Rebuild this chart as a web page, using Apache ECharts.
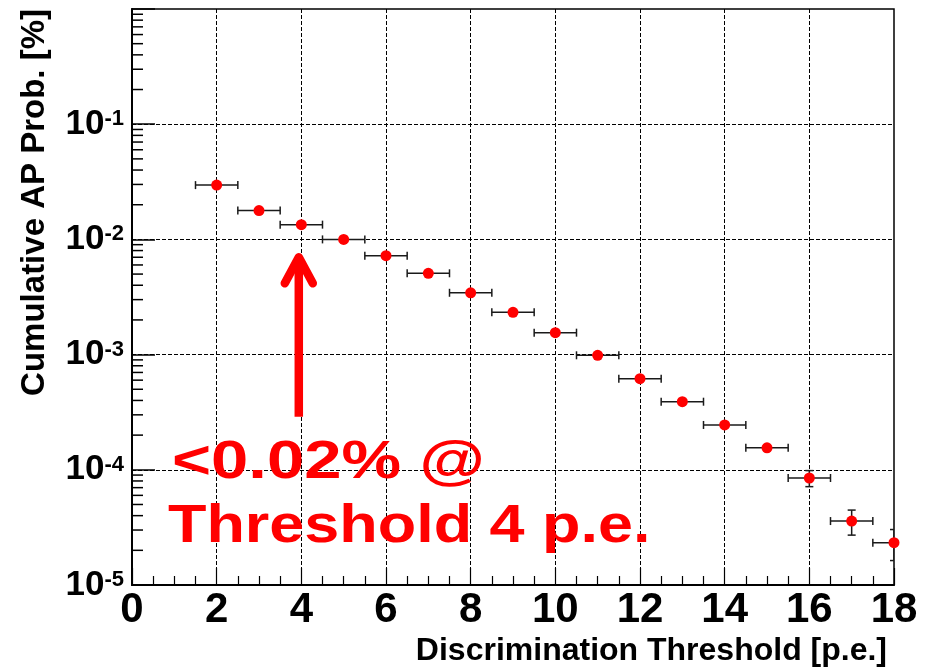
<!DOCTYPE html>
<html>
<head>
<meta charset="utf-8">
<title>Cumulative AP probability vs discrimination threshold</title>
<script src="https://cdn.jsdelivr.net/npm/echarts@6/dist/echarts.min.js"></script>
<style>
  html, body { margin: 0; padding: 0; background: #ffffff; }
  #chart { width: 930px; height: 668px; }
</style>
</head>
<body>
<div id="chart"></div>
<script>
// Discrimination threshold [p.e.]
const thresholds = [2, 3, 4, 5, 6, 7, 8, 9, 10, 11, 12, 13, 14, 15, 16, 17, 18];
// Cumulative afterpulse probability [%]
const apProb = [0.0296, 0.0178, 0.01343, 0.0100, 0.00723, 0.00508, 0.00344, 0.00233,
                0.00155, 0.000986, 0.000618, 0.000390, 0.000245, 0.000155,
                8.49e-5, 3.59e-5, 2.33e-5];
// Half width of each threshold bin
const binHalfWidth = [0.5, 0.5, 0.5, 0.5, 0.5, 0.5, 0.5, 0.5, 0.5, 0.5, 0.5, 0.5, 0.5, 0.5, 0.5, 0.5, 0.5];
// Uncertainty on the probability (0 where it stays inside the marker)
const apProbErr = [0, 0, 0, 0, 0, 0, 0, 0, 0, 0, 0, 0, 0, 0, 1.35e-5, 0.88e-5, 0.70e-5];
// Decades labelled on the probability axis
const yDecades = [-5, -4, -3, -2, -1, 0];
// Annotation arrow: threshold position and probability range it spans
const arrowAt = [3.94];
const arrowSpan = [2.89e-4, 7.57e-3];

const FONT = '"Liberation Sans", Arial, Helvetica, sans-serif';

const points = thresholds.map((t, i) => [t, apProb[i]]);
const errData = thresholds.map((t, i) => [t, apProb[i], binHalfWidth[i], apProbErr[i]]);

// log-axis minor ticks: 2..9 x 10^d for each decade
const minorTickValues = [];
for (let k = 0; k < yDecades.length - 1; k++) {
  for (let m = 2; m <= 9; m++) minorTickValues.push([0, m * Math.pow(10, yDecades[k])]);
}

const chart = echarts.init(document.getElementById('chart'), null, { renderer: 'canvas' });

const errStyle = { stroke: '#1a1a1a', lineWidth: 1.5 };

const option = {
  backgroundColor: '#ffffff',
  animation: false,
  grid: {
    left: 132, right: 36, top: 9, bottom: 83,
    show: true, borderColor: '#000', borderWidth: 1.5, backgroundColor: 'transparent'
  },
  xAxis: {
    type: 'value',
    min: 0, max: 18, interval: 2,
    axisLine: { show: true, onZero: false, lineStyle: { color: '#000', width: 2 } },
    axisTick: { show: true, inside: true, length: 17, lineStyle: { color: '#000', width: 1.2 } },
    minorTick: { show: true, splitNumber: 4, length: 9, lineStyle: { color: '#000', width: 1.2 } },
    splitLine: { show: true, showMinLine: false, showMaxLine: false,
                 lineStyle: { color: '#000', width: 1, type: [4, 2] } },
    axisLabel: {
      margin: 4,
      fontFamily: FONT, fontWeight: 'bold', fontSize: 42, color: '#000'
    }
  },
  yAxis: {
    type: 'log', logBase: 10,
    min: Math.pow(10, yDecades[0]), max: Math.pow(10, yDecades[yDecades.length - 1]),
    axisLine: { show: true, lineStyle: { color: '#000', width: 2 } },
    axisTick: { show: true, inside: true, length: 23, lineStyle: { color: '#000', width: 1.5 } },
    splitLine: { show: true, showMinLine: false, showMaxLine: false,
                 lineStyle: { color: '#000', width: 1, type: [4, 2] } },
    axisLabel: {
      margin: 8,
      formatter: function (v) {
        const e = Math.round(Math.log10(v));
        if (e >= 0) return '';
        return '{b|10}{s|' + e + '}';
      },
      rich: {
        b: { fontFamily: FONT, fontWeight: 'bold', fontSize: 35, color: '#000', lineHeight: 36 },
        s: { fontFamily: FONT, fontWeight: 'bold', fontSize: 22, color: '#000',
             verticalAlign: 'top', lineHeight: 23, padding: [2, 0, 0, 0] }
      }
    }
  },
  series: [
    {
      // minor ticks of the logarithmic axis
      type: 'custom',
      silent: true,
      data: minorTickValues,
      renderItem: function (params, api) {
        const p = api.coord([api.value(0), api.value(1)]);
        return {
          type: 'line',
          shape: { x1: p[0], y1: p[1], x2: p[0] + 11, y2: p[1] },
          style: { stroke: '#000', lineWidth: 1.5 }
        };
      },
      z: 3
    },
    {
      // error bars with end caps
      type: 'custom',
      clip: true,
      silent: true,
      data: errData,
      renderItem: function (params, api) {
        const x = api.value(0), y = api.value(1), dx = api.value(2), dy = api.value(3);
        const c = api.coord([x, y]);
        const l = api.coord([x - dx, y]);
        const r = api.coord([x + dx, y]);
        const children = [
          { type: 'line', shape: { x1: l[0], y1: c[1], x2: r[0], y2: c[1] }, style: errStyle },
          { type: 'line', shape: { x1: l[0], y1: c[1] - 4, x2: l[0], y2: c[1] + 4 }, style: errStyle },
          { type: 'line', shape: { x1: r[0], y1: c[1] - 4, x2: r[0], y2: c[1] + 4 }, style: errStyle }
        ];
        if (dy > 0) {
          const t = api.coord([x, y + dy]);
          const b = api.coord([x, y - dy]);
          children.push(
            { type: 'line', shape: { x1: c[0], y1: t[1], x2: c[0], y2: b[1] }, style: errStyle },
            { type: 'line', shape: { x1: c[0] - 4, y1: t[1], x2: c[0] + 4, y2: t[1] }, style: errStyle },
            { type: 'line', shape: { x1: c[0] - 4, y1: b[1], x2: c[0] + 4, y2: b[1] }, style: errStyle }
          );
        }
        return { type: 'group', children: children };
      },
      z: 4
    },
    {
      name: 'Cumulative AP Prob.',
      type: 'scatter',
      clip: false,
      symbol: 'circle',
      symbolSize: 11,
      itemStyle: { color: '#ff0000', opacity: 1 },
      data: points,
      z: 5
    },
    {
      // annotation arrow pointing at the 4 p.e. threshold
      type: 'custom',
      silent: true,
      clip: false,
      data: [[arrowAt[0], arrowSpan[0], arrowSpan[1]]],
      renderItem: function (params, api) {
        const bot = api.coord([api.value(0), api.value(1)]);
        const tip = api.coord([api.value(0), api.value(2)]);
        const st = { stroke: '#ff0000', lineWidth: 8.5, lineCap: 'round', lineJoin: 'round', fill: null };
        return {
          type: 'group',
          children: [
            { type: 'line', shape: { x1: bot[0], y1: bot[1], x2: tip[0], y2: tip[1] + 4 },
              style: { stroke: '#ff0000', lineWidth: 8.5, lineCap: 'butt' } },
            { type: 'polyline',
              shape: { points: [[tip[0] - 14, tip[1] + 30], [tip[0], tip[1] + 4], [tip[0] + 14, tip[1] + 30]] },
              style: st }
          ]
        };
      },
      z: 6
    }
  ],
  graphic: [
    {
      type: 'text', x: 887, y: 651, silent: true,
      style: {
        text: 'Discrimination Threshold [p.e.]',
        font: 'bold 32px ' + FONT, fill: '#000',
        align: 'right', verticalAlign: 'middle',
        textAlign: 'right', textVerticalAlign: 'middle'
      }
    },
    {
      type: 'text', x: 35, y: 9, rotation: Math.PI / 2, silent: true,
      style: {
        text: 'Cumulative AP Prob. [%]',
        font: 'bold 33px ' + FONT, fill: '#000',
        align: 'right', verticalAlign: 'middle',
        textAlign: 'right', textVerticalAlign: 'middle'
      }
    },
    {
      type: 'text', x: 172, y: 463, scaleX: 1.24, silent: true, z: 10,
      style: {
        text: '<0.02% @',
        font: 'bold 54px ' + FONT, fill: '#ff0000',
        align: 'left', verticalAlign: 'middle',
        textAlign: 'left', textVerticalAlign: 'middle'
      }
    },
    {
      type: 'text', x: 168, y: 527, scaleX: 1.165, silent: true, z: 10,
      style: {
        text: 'Threshold 4 p.e.',
        font: 'bold 54px ' + FONT, fill: '#ff0000',
        align: 'left', verticalAlign: 'middle',
        textAlign: 'left', textVerticalAlign: 'middle'
      }
    }
  ]
};

chart.setOption(option);
</script>
</body>
</html>
